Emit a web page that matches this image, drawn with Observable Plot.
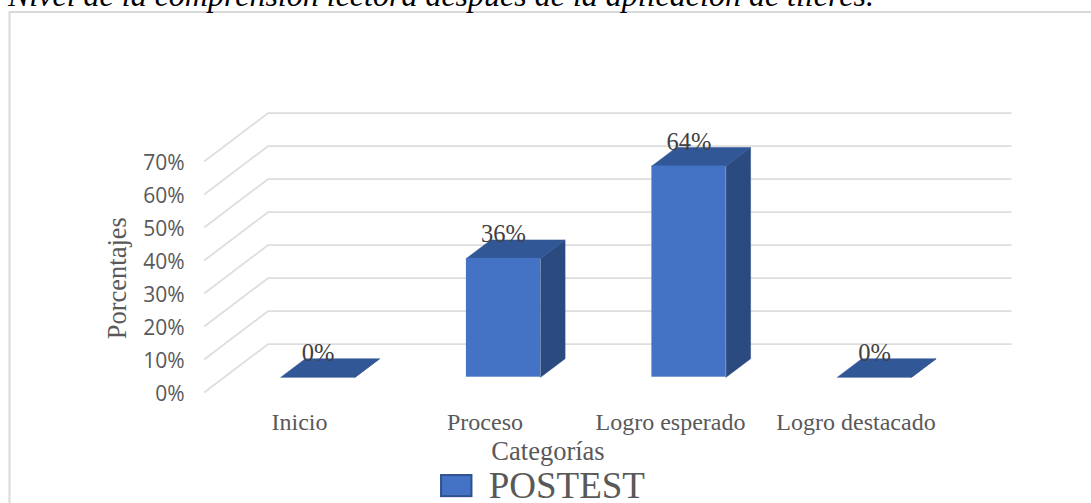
<!DOCTYPE html>
<html><head><meta charset="utf-8">
<script src="https://cdn.jsdelivr.net/npm/d3@7"></script>
<script src="https://cdn.jsdelivr.net/npm/@observablehq/plot@0.6"></script>
<style>
html,body{margin:0;padding:0;background:#fff;overflow:hidden;width:1091px;height:503px}
#wrap{position:relative;width:1091px;height:503px;overflow:hidden}
#title{position:absolute;left:8px;top:-23.5px;font:italic 32px "Liberation Serif";color:#000;white-space:nowrap}
svg{display:block}
</style></head><body>
<div id="wrap"><div id="chart"></div><div id="title">Nivel de la comprensión lectora después de la aplicación de tileres.</div></div>
<script>
const categories = ["Inicio","Proceso","Logro esperado","Logro destacado"];
const postest = [0,36,64,0];
const yTicks = [0,10,20,30,40,50,60,70];
const seriesName = "POSTEST";
const axisTitleX = "Categorías";
const axisTitleY = "Porcentajes";

// oblique projection, in data units: x = category steps, y = percentage points
const barHalf = 0.2, barDepthX = 0.132, barDepthY = 5.6;
const wallFrontX = -0.61, wallBackX = -0.27, wallEndX = 3.735, wallFrontY = -4.5, wallBackY = 10;
const x0 = -317.5/185.5, x1 = (1091-317.5)/185.5, y0 = -(503-376.7)/3.3, y1 = 376.7/3.3;

const rows = categories.map((category,i)=>({category,i,value:postest[i]}));
const poly = (pts,id)=>pts.map(([x,y])=>({x,y,id}));
const face = fn => rows.flatMap(r=>poly(fn(r),r.category));
const sideFace = face(r=>[[r.i+barHalf,0],[r.i+barHalf+barDepthX,barDepthY],[r.i+barHalf+barDepthX,r.value+barDepthY],[r.i+barHalf,r.value]]);
const topFace = face(r=>[[r.i-barHalf,r.value],[r.i-barHalf+barDepthX,r.value+barDepthY],[r.i+barHalf+barDepthX,r.value+barDepthY],[r.i+barHalf,r.value]]);
const grid = yTicks.flatMap(t=>[[wallFrontX,t+wallFrontY],[wallBackX,t+wallBackY],[wallEndX,t+wallBackY]].map(([x,y])=>({x,y,t})));
const border = [[x0+9/185.5,y0],[x0+9/185.5,y1-11.5/3.3],[x1,y1-11.5/3.3]].map(([x,y])=>({x,y}));
const polygon = (data,fill)=>Plot.line(data,{x:"x",y:"y",z:"id",fill,stroke:fill,strokeWidth:0.5,curve:"linear-closed"});

const chart = Plot.plot({
  width:1091,height:503,margin:0,
  style:{background:"#fff",overflow:"hidden"},
  x:{type:"linear",domain:[x0,x1],range:[0,1091],axis:null},
  y:{type:"linear",domain:[y0,y1],range:[503,0],axis:null},
  marks:[
    Plot.line(border,{x:"x",y:"y",stroke:"#d9d9d9",strokeWidth:2}),
    Plot.line(grid,{x:"x",y:"y",z:"t",stroke:"#dedede",strokeWidth:1.8}),
    polygon(sideFace,"#2a4a80"),
    polygon(topFace,"#325796"),
    Plot.rect(rows,{x1:d=>d.i-barHalf,x2:d=>d.i+barHalf,y1:()=>0,y2:"value",fill:"#4472c4"}),
    Plot.axisY(yTicks,{anchor:"left",tickSize:0,tickPadding:0,dx:184,dy:17.5,tickFormat:d=>d+"%",fontSize:21,fontFamily:"Open Sans",fill:"#595959",label:null}),
    Plot.axisX(d3.range(categories.length),{anchor:"bottom",y:-10.7,tickSize:0,tickPadding:0,dx:-18.5,tickFormat:i=>categories[i],fontSize:24,fontFamily:"Liberation Serif",fill:"#595959",label:null,textOverflow:null}),
    Plot.text(rows,{x:"i",y:"value",text:d=>d.value+"%",dy:-24,fontSize:24.5,fontFamily:"Liberation Serif",fill:"#404040"}),
    Plot.text([axisTitleX],{x:()=>1.24,y:()=>-22.5,text:d=>d,fontSize:26.5,fontFamily:"Liberation Serif",fill:"#595959"}),
    Plot.text([axisTitleY],{x:()=>-1.08,y:()=>30,text:d=>d,rotate:-90,fontSize:26.5,fontFamily:"Liberation Serif",fill:"#595959"}),
    Plot.rect([seriesName],{x1:()=>0.666,x2:()=>0.83,y1:()=>-36.2,y2:()=>-29.8,fill:"#4472c4",stroke:"#2f528f",strokeWidth:2}),
    Plot.text([seriesName],{x:()=>0.92,y:()=>-33,text:d=>d,textAnchor:"start",fontSize:37,fontFamily:"Liberation Serif",fill:"#595959"})
  ]
});
document.getElementById("chart").append(chart);
</script></body></html>
